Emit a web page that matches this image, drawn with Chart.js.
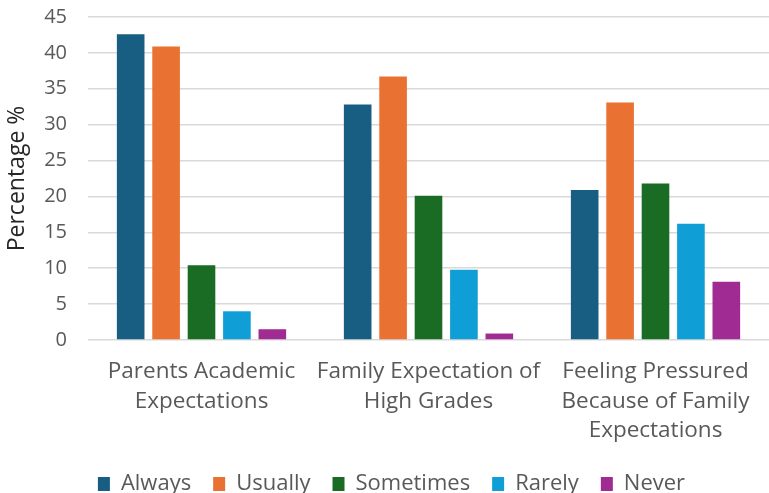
<!DOCTYPE html>
<html>
<head>
<meta charset="utf-8">
<script src="https://cdn.jsdelivr.net/npm/chart.js@4"></script>
<style>
  html, body { margin: 0; padding: 0; background: #fff; }
  #wrap { width: 769px; height: 493px; }
</style>
</head>
<body>
<div id="wrap"><canvas id="barChart"></canvas></div>
<script>
const categories = [
    ['Parents Academic', 'Expectations'],
    ['Family Expectation of', 'High Grades'],
    ['Feeling Pressured', 'Because of Family', 'Expectations']
];
const seriesNames = ['Always', 'Usually', 'Sometimes', 'Rarely', 'Never'];
const always = [42.6, 32.8, 20.9];
const usually = [40.9, 36.7, 33.1];
const sometimes = [10.4, 20.1, 21.8];
const rarely = [4.0, 9.8, 16.2];
const never = [1.5, 0.9, 8.1];
const colors = ['#175e82', '#e97132', '#1a6b24', '#0f9ed5', '#a02b93'];

const FONT = "'Open Sans', sans-serif";
const GREY = '#595959';

const ctx = document.getElementById('barChart').getContext('2d');

const chart = new Chart(ctx, {
    type: 'bar',
    data: {
        labels: categories,
        datasets: [always, usually, sometimes, rarely, never].map((values, i) => ({
            label: seriesNames[i],
            data: values,
            backgroundColor: colors[i],
            borderWidth: 0,
            barPercentage: 0.78,
            categoryPercentage: 0.78
        }))
    },
    options: {
        responsive: true,
        maintainAspectRatio: false,
        animation: false,
        layout: {
            // plot area runs a little past the right edge; legend spacing hangs below
            padding: { top: 17, right: -10, left: 4, bottom: -12 }
        },
        scales: {
            x: {
                grid: { display: false },
                border: { display: false },
                ticks: {
                    color: GREY,
                    font: { family: FONT, size: 22.5, lineHeight: 1.31 },
                    maxRotation: 0,
                    autoSkip: false,
                    padding: 9
                },
                afterFit: (scale) => { scale.height = 111; }
            },
            y: {
                min: 0,
                max: 45,
                ticks: {
                    stepSize: 5,
                    color: GREY,
                    font: { family: FONT, size: 20 },
                    padding: 21
                },
                grid: { color: '#d9d9d9', lineWidth: 1.5, drawTicks: false },
                border: { display: false },
                title: {
                    display: true,
                    text: 'Percentage %',
                    color: '#262626',
                    font: { family: FONT, size: 23 },
                    padding: { top: 0, bottom: 8 }
                },
                afterFit: (scale) => {
                    scale.width = 84;
                    scale.paddingTop = 0;
                }
            }
        },
        plugins: {
            legend: {
                position: 'bottom',
                labels: {
                    color: GREY,
                    font: { family: FONT, size: 22 },
                    boxWidth: 12,
                    boxHeight: 14,
                    padding: 22
                }
            },
            tooltip: { enabled: false }
        }
    }
});
</script>
</body>
</html>
